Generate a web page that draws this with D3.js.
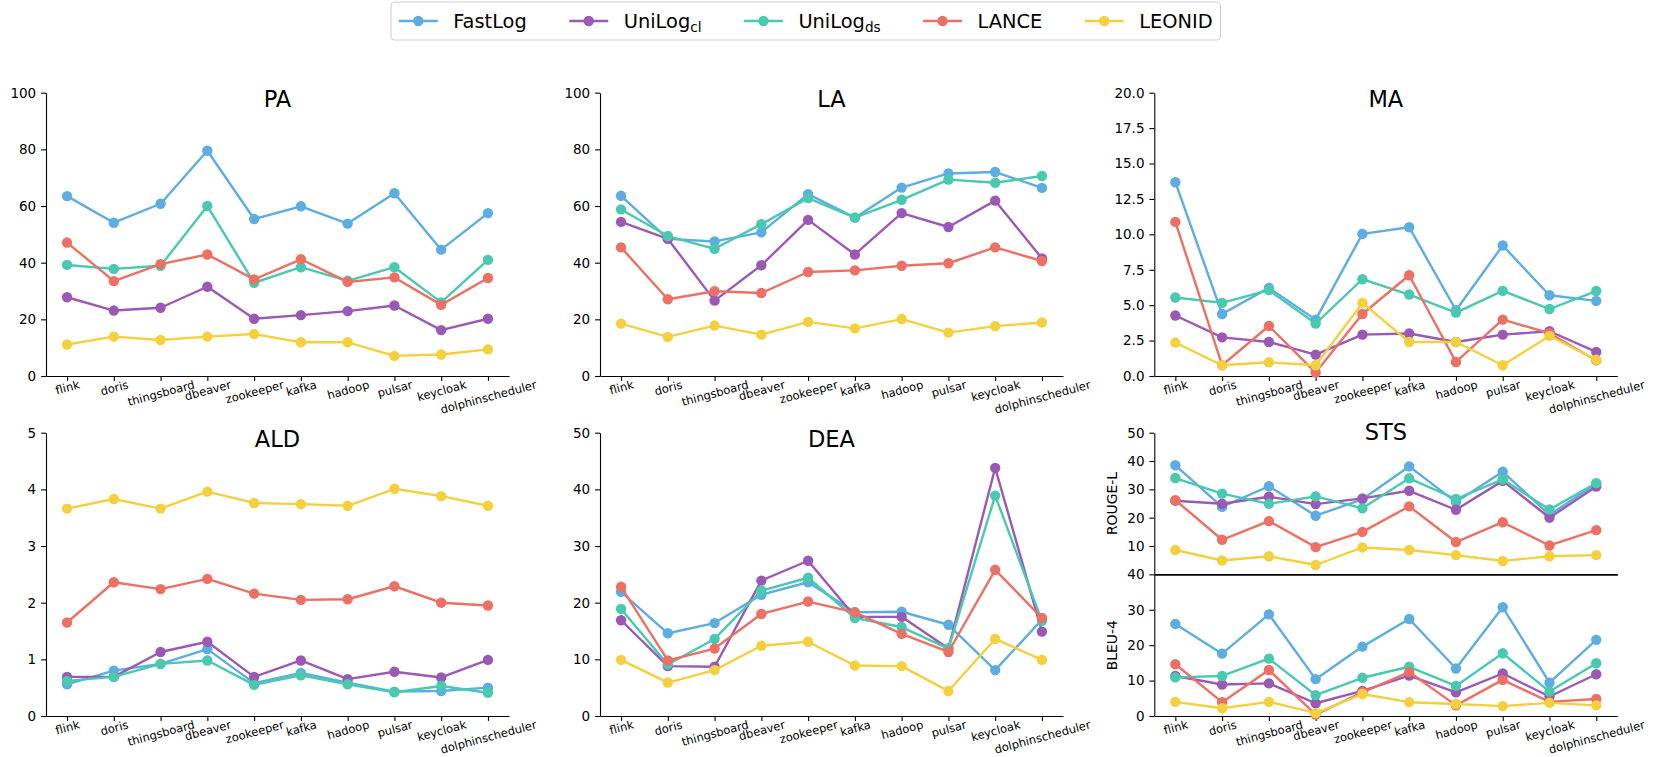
<!DOCTYPE html>
<html>
<head>
<meta charset="utf-8">
<script src="https://cdn.jsdelivr.net/npm/d3@7"></script>
<style>
  body { margin: 0; background: #fff; }
  svg { font-family: "DejaVu Sans", sans-serif; }
</style>
</head>
<body>
<div id="chart"></div>
<script>
// --> DATA (rows follow the order of `methods`)

var projects = ["flink", "doris", "thingsboard", "dbeaver", "zookeeper", "kafka", "hadoop", "pulsar", "keycloak", "dolphinscheduler"];
var methods = ["FastLog", "UniLog|cl", "UniLog|ds", "LANCE", "LEONID"];
var colors = ["#5dade2", "#9b59b6", "#48c9b0", "#ec7063", "#f4d03f"];

var paValues = [
    [63.5, 54.1, 60.8, 79.5, 55.4, 59.9, 53.8, 64.5, 44.6, 57.5],
    [27.8, 23.1, 24.1, 31.5, 20.2, 21.5, 22.9, 24.9, 16.2, 20.2],
    [39.2, 37.8, 38.9, 60.0, 32.9, 38.4, 33.6, 38.4, 26.0, 41.0],
    [47.1, 33.5, 39.5, 42.9, 34.1, 41.2, 33.2, 34.8, 25.1, 34.6],
    [11.1, 13.9, 12.7, 13.9, 14.8, 11.9, 11.9, 7.1, 7.6, 9.4]
];
var laValues = [
    [63.6, 48.4, 47.5, 50.7, 64.2, 55.9, 66.5, 71.5, 72.0, 66.4],
    [54.4, 48.4, 26.6, 39.1, 55.1, 42.9, 57.5, 52.6, 61.9, 41.5],
    [58.8, 49.4, 44.9, 53.6, 62.8, 55.9, 62.2, 69.3, 68.2, 70.6],
    [45.4, 27.1, 29.9, 29.3, 36.7, 37.3, 38.9, 39.8, 45.4, 40.6],
    [18.5, 13.8, 17.8, 14.6, 19.1, 16.8, 20.1, 15.3, 17.6, 18.9]
];
var maValues = [
    [13.68, 4.38, 6.22, 3.98, 10.03, 10.5, 4.64, 9.21, 5.7, 5.3],
    [4.27, 2.73, 2.4, 1.51, 2.92, 3.0, 2.4, 2.92, 3.16, 1.7],
    [5.54, 5.16, 6.06, 3.7, 6.83, 5.75, 4.48, 6.01, 4.73, 6.0],
    [10.88, 0.76, 3.53, 0.24, 4.38, 7.11, 0.99, 3.98, 3.02, 1.1],
    [2.36, 0.76, 0.97, 0.76, 5.16, 2.4, 2.4, 0.76, 2.83, 1.15]
];
var aldValues = [
    [0.56, 0.80, 0.92, 1.18, 0.58, 0.76, 0.59, 0.43, 0.44, 0.50],
    [0.69, 0.69, 1.13, 1.31, 0.69, 0.98, 0.65, 0.78, 0.68, 0.99],
    [0.62, 0.69, 0.92, 0.98, 0.55, 0.72, 0.56, 0.42, 0.53, 0.41],
    [1.65, 2.36, 2.24, 2.42, 2.16, 2.05, 2.06, 2.29, 2.0, 1.95],
    [3.66, 3.83, 3.66, 3.96, 3.76, 3.74, 3.71, 4.01, 3.88, 3.71]
];
var deaValues = [
    [21.9, 14.6, 16.4, 21.4, 23.6, 18.3, 18.4, 16.1, 8.1, 17.0],
    [16.9, 8.8, 8.7, 23.9, 27.4, 17.5, 17.5, 11.9, 43.8, 14.9],
    [18.9, 9.1, 13.6, 22.1, 24.4, 17.3, 15.7, 11.9, 38.9, 16.8],
    [22.8, 9.8, 11.9, 18.0, 20.2, 18.3, 14.5, 11.3, 25.8, 17.3],
    [9.9, 5.9, 8.1, 12.4, 13.1, 8.9, 8.8, 4.4, 13.6, 9.9]
];
var rougeValues = [
    [38.5, 23.8, 31.1, 20.7, 26.5, 38.1, 25.5, 36.2, 21.0, 32.0],
    [26.0, 24.9, 27.4, 24.8, 26.8, 29.5, 22.8, 33.0, 20.0, 31.0],
    [34.0, 28.5, 24.9, 27.5, 23.3, 33.9, 26.6, 33.5, 22.9, 32.2],
    [26.2, 12.2, 18.8, 9.6, 15.0, 24.0, 11.4, 18.4, 10.2, 15.6],
    [8.6, 4.9, 6.4, 3.3, 9.5, 8.6, 6.8, 4.7, 6.4, 6.8]
];
var bleuValues = [
    [26.0, 17.6, 28.7, 10.4, 19.6, 27.4, 13.4, 30.7, 9.4, 21.5],
    [11.3, 8.9, 9.2, 3.6, 7.1, 11.4, 6.7, 12.0, 5.5, 11.8],
    [10.9, 11.3, 16.2, 5.9, 10.8, 13.9, 8.5, 17.7, 6.9, 14.9],
    [14.6, 3.9, 13.0, 0.4, 6.7, 12.4, 3.0, 10.2, 4.0, 4.8],
    [4.0, 2.2, 4.0, 0.8, 6.2, 3.9, 3.4, 2.8, 3.7, 3.0]
];

var pctTicks = [0, 20, 40, 60, 80, 100];
var maTicks = [0, 2.5, 5, 7.5, 10, 12.5, 15, 17.5, 20];
var aldTicks = [0, 1, 2, 3, 4, 5];
var deaTicks = [0, 10, 20, 30, 40, 50];
var rougeTicks = [10, 20, 30, 40, 50];
var bleuTicks = [0, 10, 20, 30, 40];

// --> LAYOUT

var W = 1661, H = 757;
var colLeft = [46, 600, 1154.3];
var axW = 463;
var rowTop = [92.7, 432.7];
var axH = 283.3;
var tickLen = 4.9, tickPad = 4.9;
var xFont = 11.5;

var svg = d3.select("#chart").append("svg")
    .attr("width", W)
    .attr("height", H);

svg.append("rect").attr("width", W).attr("height", H).attr("fill", "#fff");

function drawPanel(p) {
    var g = svg.append("g");
    var x = d3.scaleLinear().domain([-0.45, 9.45]).range([p.left, p.left + axW]);
    var y = d3.scaleLinear().domain(p.yDomain).range([p.top + p.height, p.top]);

    // y axis
    var ya = g.append("g")
        .attr("transform", "translate(" + p.left + ",0)")
        .call(d3.axisLeft(y).tickValues(p.ticks).tickSize(tickLen).tickSizeOuter(0)
            .tickPadding(tickPad).tickFormat(p.fmt || d3.format("d")));
    ya.selectAll("text").attr("font-size", 13.5).attr("fill", "#000").attr("font-family", "DejaVu Sans");
    ya.selectAll("line").attr("stroke", "#000").attr("stroke-width", 1.1);
    ya.select(".domain").attr("stroke", "#000").attr("stroke-width", 1.1);

    // x axis
    var xa = g.append("g")
        .attr("transform", "translate(0," + (p.top + p.height) + ")")
        .call(d3.axisBottom(x).tickValues(d3.range(projects.length))
            .tickSize(p.xLabels ? tickLen : 0).tickSizeOuter(0)
            .tickFormat(function(i) { return p.xLabels ? projects[i] : ""; }));
    xa.selectAll("line").attr("stroke", "#000").attr("stroke-width", 1.1);
    xa.select(".domain").attr("stroke", "#000").attr("stroke-width", p.thickBottom ? 1.6 : 1.1);
    xa.selectAll("text")
        .attr("font-size", xFont)
        .attr("fill", "#000")
        .attr("font-family", "DejaVu Sans")
        .attr("text-anchor", "middle")
        .attr("y", 0)
        .attr("dy", "0.35em")
        .attr("transform", function() {
            var w = this.getComputedTextLength();
            var a = 15 * Math.PI / 180;
            var bh = w * Math.sin(a) + xFont * 1.16 * Math.cos(a);
            return "translate(0," + (tickLen + tickPad + bh / 2 - 8) + ") rotate(-15)";
        });

    // lines + markers, one series after the other
    var line = d3.line()
        .x(function(d, i) { return x(i); })
        .y(function(d) { return y(d); });

    p.values.forEach(function(vals, s) {
        var sg = g.append("g");
        sg.append("path")
            .datum(vals)
            .attr("d", line)
            .attr("fill", "none")
            .attr("stroke", colors[s])
            .attr("stroke-width", 2.4)
            .attr("stroke-linejoin", "round");
        sg.selectAll("circle")
            .data(vals)
            .enter().append("circle")
            .attr("cx", function(d, i) { return x(i); })
            .attr("cy", function(d) { return y(d); })
            .attr("r", 5.2)
            .attr("fill", colors[s]);
    });

    if (p.title) {
        g.append("text")
            .attr("x", p.left + axW / 2)
            .attr("y", p.top + 0.0515 * p.height)
            .attr("text-anchor", "middle")
            .attr("font-size", 22.5)
            .attr("fill", "#000")
            .text(p.title);
    }

    if (p.ylabel) {
        g.append("text")
            .attr("transform", "translate(" + (p.left - 42) + "," + (p.top + p.height / 2) + ") rotate(-90)")
            .attr("text-anchor", "middle")
            .attr("dy", "0.35em")
            .attr("font-size", 13.9)
            .attr("fill", "#000")
            .text(p.ylabel);
    }
}

drawPanel({left: colLeft[0], top: rowTop[0], height: axH, yDomain: [0, 100], ticks: pctTicks, values: paValues, title: "PA", xLabels: true});
drawPanel({left: colLeft[1], top: rowTop[0], height: axH, yDomain: [0, 100], ticks: pctTicks, values: laValues, title: "LA", xLabels: true});
drawPanel({left: colLeft[2], top: rowTop[0], height: axH, yDomain: [0, 20], ticks: maTicks, fmt: d3.format(".1f"), values: maValues, title: "MA", xLabels: true});
drawPanel({left: colLeft[0], top: rowTop[1], height: axH, yDomain: [0, 5], ticks: aldTicks, values: aldValues, title: "ALD", xLabels: true});
drawPanel({left: colLeft[1], top: rowTop[1], height: axH, yDomain: [0, 50], ticks: deaTicks, values: deaValues, title: "DEA", xLabels: true});

// STS is split into two stacked axes
var half = axH / 2;
drawPanel({left: colLeft[2], top: rowTop[1], height: half, yDomain: [0, 50], ticks: rougeTicks, values: rougeValues, title: "STS", xLabels: false, thickBottom: true, ylabel: "ROUGE-L"});
drawPanel({left: colLeft[2], top: rowTop[1] + half, height: half, yDomain: [0, 40], ticks: bleuTicks, values: bleuValues, xLabels: true, ylabel: "BLEU-4"});

// --> LEGEND

var legFont = 19.4;
var legend = svg.append("g");
var legBox = legend.append("rect");
var legY = 21;
var cursor = 391 + 7.8;

methods.forEach(function(m, s) {
    var eg = legend.append("g");
    eg.append("line")
        .attr("x1", cursor).attr("x2", cursor + 38.9)
        .attr("y1", legY).attr("y2", legY)
        .attr("stroke", colors[s]).attr("stroke-width", 2.4);
    eg.append("circle")
        .attr("cx", cursor + 19.45).attr("cy", legY).attr("r", 5.2)
        .attr("fill", colors[s]);
    var parts = m.split("|");
    var t = eg.append("text")
        .attr("x", cursor + 38.9 + 15.5)
        .attr("y", legY)
        .attr("dy", "0.35em")
        .attr("font-size", legFont)
        .attr("fill", "#000");
    t.append("tspan").text(parts[0]);
    if (parts[1]) {
        t.append("tspan").attr("font-size", legFont * 0.7).attr("dy", 4).text(parts[1]);
    }
    var tw = t.node().getComputedTextLength();
    cursor = cursor + 38.9 + 15.5 + tw + (s < methods.length - 1 ? 42.5 : 0);
});

legBox.attr("x", 391).attr("y", 2)
    .attr("width", cursor + 7.8 - 391).attr("height", 38)
    .attr("rx", 4).attr("ry", 4)
    .attr("fill", "#fff")
    .attr("stroke", "#d0d0d0")
    .attr("stroke-width", 1.1);
</script>
</body>
</html>
